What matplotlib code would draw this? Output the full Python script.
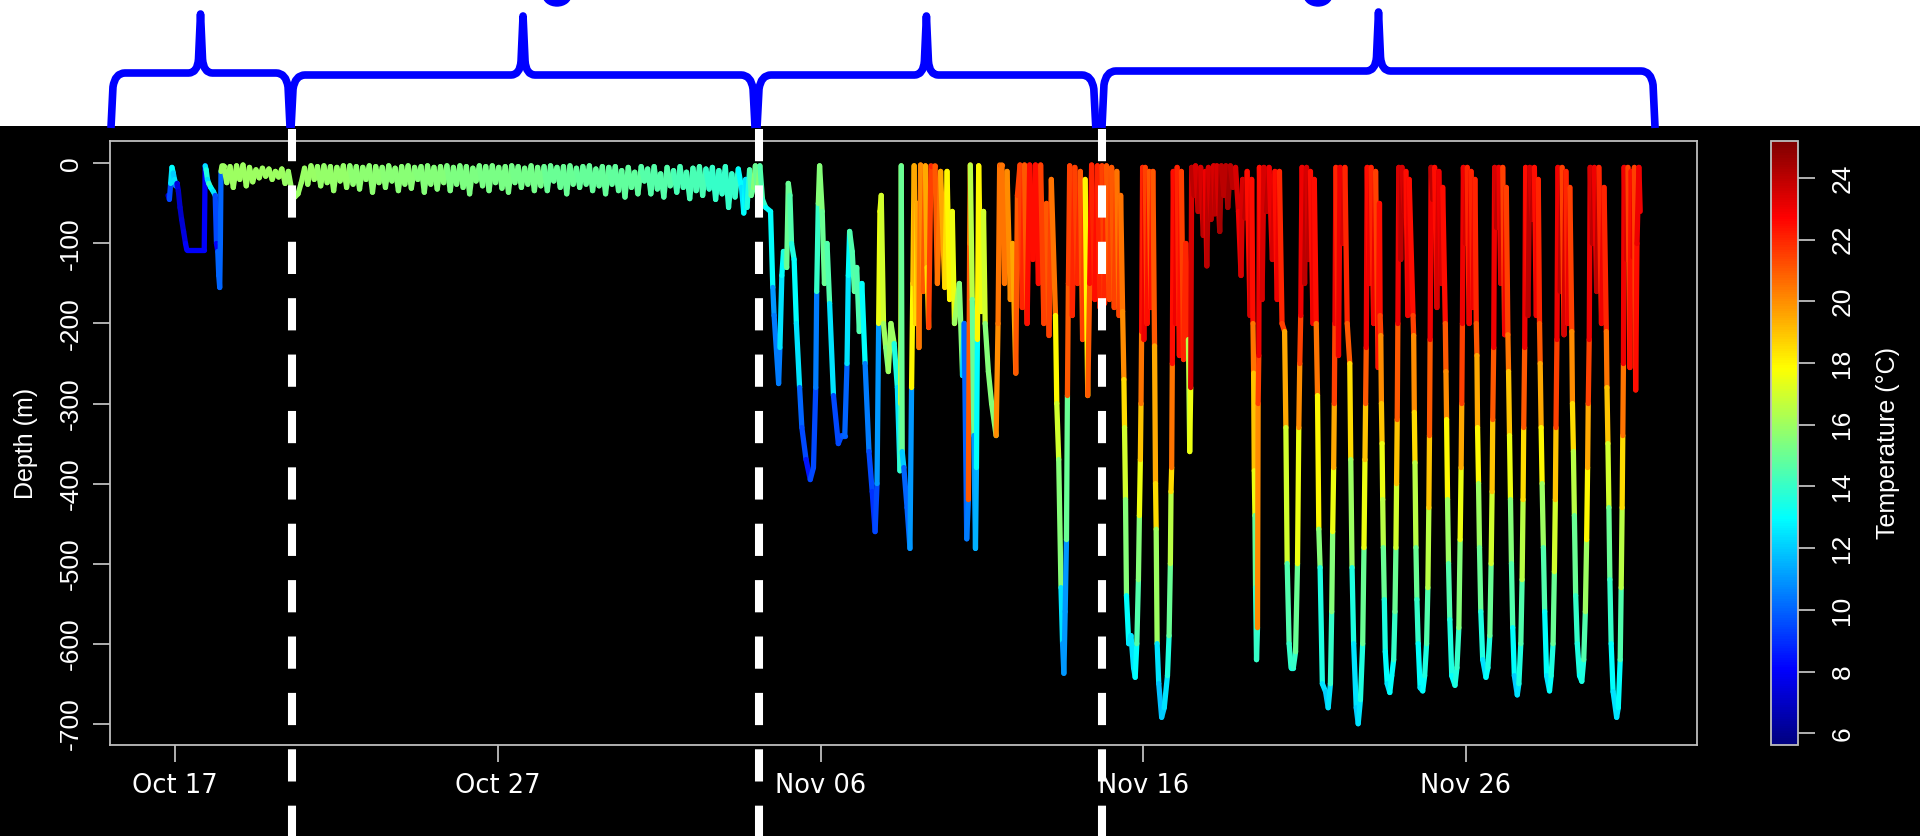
import numpy as np
import matplotlib
matplotlib.use("Agg")
import matplotlib.pyplot as plt
import matplotlib.dates as mdates
from matplotlib.collections import LineCollection
from matplotlib.colors import LinearSegmentedColormap, Normalize
from matplotlib.cm import ScalarMappable
from matplotlib.path import Path
from matplotlib.patches import PathPatch, Ellipse, Rectangle
from datetime import datetime

plt.rcParams["axes.unicode_minus"] = False

# ---- data: (days after 17 Oct, depth m, temperature degC) ----
release_dives = [
    (-0.22, -40, 8.0), (-0.18, -45, 7.5), (-0.14, -25, 9.5), (-0.10, -5, 12.5),
    (-0.06, -12, 13.0), (-0.02, -20, 12.0), (0.02, -28, 12.5), (0.06, -25, 10.0),
    (0.10, -35, 7.5), (0.15, -55, 7.0), (0.20, -70, 7.0), (0.26, -85, 7.3),
    (0.32, -100, 7.5), (0.36, -108, 8.0), (0.90, -108, 8.0), (0.93, -3, 8.0),
    (0.96, -8, 12.5), (1.00, -20, 13.5), (1.04, -25, 12.5), (1.10, -30, 14.0),
    (1.18, -35, 13.0), (1.24, -40, 12.5), (1.28, -100, 9.5), (1.32, -110, 8.0),
    (1.35, -140, 10.0), (1.38, -155, 10.0), (1.40, -100, 10.0), (1.42, -10, 10.0),
    (1.45, -3, 16.0),
]

# shallow phase, ten samples per day from 1.5 to 17.45
surface_depth = [
    -3, -24, -4, -30, -3, -20, -2, -28, -5, -23,
    -8, -18, -6, -16, -7, -20, -10, -17, -7, -25,
    -10, -32, -42, -38, -24, -6, -26, -3, -20, -4,
    -28, -3, -24, -4, -34, -5, -22, -3, -30, -3,
    -26, -4, -32, -5, -20, -3, -36, -4, -24, -5,
    -30, -3, -22, -6, -34, -4, -26, -3, -31, -5,
    -20, -4, -36, -3, -26, -5, -32, -4, -24, -3,
    -34, -5, -26, -3, -30, -4, -38, -6, -22, -3,
    -28, -4, -34, -3, -24, -5, -31, -4, -36, -3,
    -24, -4, -30, -6, -26, -3, -34, -5, -28, -4,
    -34, -3, -22, -5, -30, -4, -38, -3, -26, -6,
    -30, -4, -26, -3, -34, -7, -28, -4, -38, -5,
    -26, -4, -34, -9, -42, -5, -30, -11, -38, -4,
    -22, -7, -38, -4, -32, -13, -42, -5, -28, -9,
    -36, -4, -30, -11, -44, -6, -34, -4, -40, -7,
    -32, -5, -45, -9, -38, -4, -55, -13, -42, -7,
]
surface_temp = [16.0, 16.0, 15.9, 15.8, 15.7, 15.6, 15.5, 15.4,
                15.3, 15.2, 15.0, 14.9, 14.8, 14.6, 14.4, 14.0]

mixed_dives = [
    (17.55, -30, 13.0), (17.62, -62, 12.5), (17.68, -20, 13.0), (17.72, -55, 12.5),
    (17.80, -8, 13.5), (17.85, -40, 14.5), (17.92, -30, 15.0), (17.98, -3, 15.5),
    (18.05, -40, 15.0), (18.12, -3, 15.5), (18.20, -45, 14.5), (18.30, -55, 14.0),
    (18.45, -60, 13.0), (18.52, -155, 13.0), (18.56, -190, 11.0), (18.70, -275, 10.5),
    (18.74, -230, 10.5), (18.80, -140, 12.5), (18.85, -110, 13.0), (18.95, -130, 13.5),
    (19.00, -25, 15.0), (19.05, -40, 15.0), (19.10, -100, 14.5), (19.18, -120, 13.5),
    (19.25, -200, 13.0), (19.35, -280, 12.5), (19.42, -330, 10.0), (19.55, -370, 9.5),
    (19.68, -395, 8.5), (19.78, -380, 9.5), (19.85, -280, 9.5), (19.88, -160, 10.5),
    (19.93, -50, 14.0), (19.97, -3, 15.5), (20.05, -60, 15.5), (20.12, -150, 15.0),
    (20.20, -100, 15.0), (20.28, -175, 14.5), (20.40, -290, 12.5), (20.55, -350, 9.5),
    (20.65, -340, 9.5), (20.75, -340, 9.8), (20.82, -250, 10.0), (20.86, -140, 12.5),
    (20.90, -85, 13.0), (20.98, -110, 14.5), (21.05, -160, 14.5), (21.12, -130, 14.8),
    (21.20, -210, 14.5), (21.28, -150, 14.5), (21.38, -250, 13.0), (21.50, -360, 10.5),
    (21.60, -410, 9.5), (21.69, -460, 9.0), (21.75, -400, 9.5), (21.80, -200, 11.0),
    (21.84, -60, 17.5), (21.88, -40, 17.5), (21.95, -200, 17.0), (22.02, -230, 16.0),
    (22.10, -260, 15.5), (22.18, -200, 16.0), (22.28, -225, 16.0), (22.38, -280, 13.5),
    (22.46, -384, 12.5), (22.48, -300, 14.0), (22.50, -3, 16.5), (22.53, -360, 15.0),
    (22.58, -380, 12.0), (22.68, -430, 10.0), (22.77, -481, 10.0), (22.82, -280, 11.0),
    (22.86, -150, 18.0), (22.90, -3, 19.0), (22.95, -200, 19.5), (23.00, -50, 18.5),
    (23.05, -230, 19.5), (23.10, -2, 20.5), (23.18, -160, 20.0), (23.25, -3, 21.0),
    (23.30, -130, 19.5), (23.35, -205, 18.5), (23.42, -3, 21.5), (23.55, -3, 22.0),
    (23.62, -150, 21.0), (23.72, -10, 20.5), (23.85, -155, 19.5), (23.92, -10, 18.5),
    (24.00, -170, 18.0), (24.08, -60, 18.0), (24.15, -200, 17.5), (24.30, -150, 16.0),
    (24.40, -265, 15.5), (24.45, -200, 12.0), (24.53, -469, 10.0), (24.58, -420, 10.5),
    (24.62, -100, 21.0), (24.64, -2, 20.5), (24.70, -170, 16.5), (24.75, -340, 15.0),
    (24.80, -481, 11.0), (24.83, -380, 11.5), (24.86, -220, 13.0), (24.90, -3, 18.0),
    (24.98, -185, 18.0), (25.05, -60, 17.5), (25.10, -200, 17.0), (25.20, -260, 15.5),
    (25.30, -300, 15.5), (25.44, -340, 15.5), (25.50, -200, 20.0), (25.55, -2, 20.5),
    (25.62, -2, 21.0), (25.70, -150, 20.5), (25.78, -10, 20.5), (25.88, -170, 20.0),
    (25.95, -100, 20.0), (26.05, -262, 19.5), (26.10, -40, 21.0), (26.18, -2, 21.5),
    (26.25, -180, 21.5), (26.32, -2, 22.0), (26.40, -200, 21.0), (26.48, -2, 22.5),
    (26.58, -120, 22.5), (26.66, -2, 22.5), (26.75, -150, 22.5), (26.82, -2, 22.5),
    (26.92, -200, 21.5), (27.00, -50, 21.5), (27.08, -215, 21.0), (27.15, -20, 21.5),
    (27.28, -190, 20.5), (27.32, -300, 18.0), (27.38, -370, 17.0), (27.45, -530, 15.5),
    (27.50, -600, 12.5), (27.54, -637, 11.0), (27.58, -560, 11.0), (27.62, -470, 11.0),
    (27.65, -290, 15.0), (27.68, -150, 21.0), (27.72, -3, 21.5), (27.80, -190, 21.5),
    (27.88, -5, 22.0), (27.96, -150, 21.5), (28.05, -10, 22.0), (28.12, -220, 21.0),
    (28.20, -20, 21.5), (28.28, -290, 18.0), (28.34, -150, 21.0), (28.40, -2, 22.5),
    (28.50, -170, 22.0), (28.58, -3, 22.5),
]

diel_dives = [
    (28.66, -180, 22.0), (28.72, -3, 22.0), (28.80, -175, 21.5), (28.86, -3, 22.0),
    (28.95, -170, 21.0), (29.02, -5, 21.5), (29.10, -180, 21.0), (29.18, -10, 21.5),
    (29.25, -190, 20.5), (29.30, -40, 21.5), (29.36, -185, 20.5),
    (29.40, -270, 20.0), (29.42, -330, 18.5), (29.45, -420, 17.0), (29.48, -540, 15.5),
    (29.55, -600, 13.0), (29.62, -590, 12.5), (29.70, -630, 12.5), (29.75, -642, 12.5),
    (29.80, -600, 13.0), (29.85, -520, 14.5), (29.88, -440, 15.5), (29.91, -370, 17.5),
    (29.93, -300, 19.0), (29.95, -210, 20.5), (29.98, -5, 22.5),
    (30.02, -220, 22.0), (30.06, -5, 23.0), (30.12, -200, 21.5), (30.18, -10, 22.5),
    (30.24, -180, 21.0), (30.30, -10, 22.5),
    (30.35, -228, 21.0), (30.38, -400, 19.5), (30.40, -457, 18.5), (30.43, -600, 16.0),
    (30.48, -650, 12.5), (30.57, -692, 11.8), (30.65, -680, 12.0), (30.75, -640, 12.5),
    (30.80, -590, 13.5), (30.84, -500, 15.0), (30.86, -410, 16.5), (30.88, -380, 18.5),
    (30.90, -250, 20.5), (30.93, -10, 22.5),
    (31.00, -200, 22.5), (31.05, -5, 23.0), (31.12, -240, 22.0), (31.18, -10, 22.5),
    (31.25, -245, 21.5), (31.32, -100, 22.0), (31.40, -220, 22.0), (31.44, -360, 16.5),
    (31.47, -280, 17.5), (31.50, -5, 23.5),
    (31.58, -40, 24.0), (31.62, -3, 24.0), (31.70, -60, 23.5), (31.78, -5, 24.0),
    (31.86, -90, 23.5), (31.92, -10, 24.0), (31.97, -128, 23.0), (32.02, -5, 24.0),
    (32.10, -70, 23.5), (32.18, -3, 24.0), (32.22, -63, 23.5), (32.28, -3, 24.0),
    (32.37, -85, 23.5), (32.42, -3, 24.5), (32.50, -40, 24.0), (32.56, -3, 24.0),
    (32.62, -55, 24.0), (32.70, -3, 24.5), (32.78, -30, 24.0), (32.86, -5, 24.0),
    (32.95, -60, 23.5), (33.03, -140, 23.0), (33.08, -20, 23.5), (33.15, -68, 23.5),
    (33.22, -10, 24.0), (33.31, -190, 22.5), (33.36, -20, 23.5),
    (33.40, -200, 22.5), (33.42, -262, 20.5), (33.44, -384, 19.0), (33.46, -440, 17.5),
    (33.48, -530, 15.0), (33.51, -620, 14.0), (33.54, -580, 14.0), (33.56, -300, 20.0),
    (33.58, -240, 21.5), (33.60, -5, 23.0),
    (33.68, -170, 22.5), (33.74, -5, 23.5), (33.82, -60, 23.5), (33.90, -5, 24.0),
    (34.00, -120, 23.0), (34.08, -10, 23.5), (34.15, -170, 22.5), (34.22, -10, 23.0),
    (34.30, -200, 22.0),
    (34.38, -210, 21.5), (34.42, -330, 19.5), (34.46, -500, 17.0), (34.52, -600, 14.5),
    (34.58, -630, 14.0), (34.65, -630, 13.5), (34.72, -610, 14.0), (34.78, -500, 15.0),
    (34.82, -330, 17.5), (34.85, -250, 20.0), (34.88, -190, 21.5), (34.92, -5, 23.0),
    (35.00, -150, 23.0), (35.06, -5, 24.0), (35.12, -120, 23.5), (35.18, -10, 24.0),
    (35.26, -200, 22.5), (35.30, -20, 23.0),
    (35.36, -200, 22.5), (35.40, -290, 20.5), (35.44, -457, 18.0), (35.48, -505, 15.5),
    (35.55, -650, 13.5), (35.65, -660, 12.5), (35.73, -680, 12.0), (35.80, -650, 12.5),
    (35.84, -560, 14.0), (35.87, -460, 15.5), (35.90, -380, 17.5), (35.92, -300, 19.5),
    (35.94, -200, 21.5), (35.97, -5, 23.0),
    (36.05, -240, 22.0), (36.10, -5, 23.0), (36.18, -100, 23.0), (36.25, -5, 23.5),
    (36.32, -200, 22.0),
    (36.40, -250, 21.0), (36.43, -370, 18.5), (36.47, -505, 16.0), (36.52, -600, 13.5),
    (36.60, -680, 12.5), (36.66, -700, 12.0), (36.73, -670, 12.5), (36.80, -600, 13.5),
    (36.84, -480, 15.0), (36.87, -370, 17.5), (36.89, -300, 19.0), (36.91, -230, 21.0),
    (36.94, -5, 23.0),
    (37.00, -150, 22.5), (37.06, -5, 23.0), (37.14, -200, 22.0), (37.20, -10, 23.0),
    (37.28, -255, 21.5), (37.32, -50, 22.5),
    (37.34, -190, 22.5), (37.36, -215, 21.5), (37.38, -300, 20.0), (37.40, -350, 19.0),
    (37.42, -420, 17.5), (37.44, -480, 16.5), (37.47, -545, 15.0), (37.50, -610, 13.5),
    (37.56, -650, 13.0), (37.64, -661, 12.5), (37.70, -640, 13.0), (37.76, -620, 13.0),
    (37.80, -560, 14.0), (37.83, -480, 15.0), (37.85, -400, 17.0), (37.87, -320, 19.0),
    (37.89, -200, 21.0), (37.92, -5, 23.0),
    (37.98, -120, 23.5), (38.02, -5, 24.0), (38.08, -60, 23.5), (38.14, -10, 24.0),
    (38.20, -190, 22.5), (38.24, -20, 23.0),
    (38.36, -190, 22.5), (38.38, -215, 21.5), (38.40, -311, 20.0), (38.42, -374, 18.5),
    (38.45, -480, 16.5), (38.48, -545, 15.0), (38.52, -600, 14.0), (38.58, -655, 13.0),
    (38.66, -659, 12.5), (38.72, -640, 13.0), (38.78, -600, 13.5), (38.82, -530, 14.5),
    (38.85, -430, 16.5), (38.87, -340, 19.0), (38.89, -220, 21.0), (38.92, -5, 23.0),
    (38.98, -45, 24.0), (39.03, -5, 24.0), (39.10, -180, 22.5), (39.16, -10, 23.5),
    (39.24, -150, 23.0), (39.28, -30, 23.5),
    (39.36, -200, 22.5), (39.38, -260, 21.0), (39.40, -320, 20.0), (39.43, -420, 18.0),
    (39.46, -500, 16.0), (39.50, -570, 14.5), (39.56, -640, 13.5), (39.66, -652, 13.0),
    (39.72, -630, 13.5), (39.78, -580, 14.0), (39.82, -470, 15.5), (39.85, -380, 17.5),
    (39.87, -300, 19.5), (39.89, -200, 21.5), (39.92, -5, 23.0),
    (39.98, -100, 23.0), (40.04, -5, 23.5), (40.10, -200, 22.0), (40.16, -10, 23.0),
    (40.22, -180, 22.0), (40.28, -20, 23.0),
    (40.32, -200, 22.0), (40.34, -240, 21.0), (40.36, -330, 19.5), (40.39, -400, 18.0),
    (40.42, -480, 16.0), (40.46, -560, 15.0), (40.52, -620, 13.5), (40.62, -642, 12.5),
    (40.68, -630, 13.0), (40.74, -590, 13.5), (40.78, -500, 15.0), (40.81, -410, 17.0),
    (40.83, -320, 19.0), (40.86, -230, 21.0), (40.89, -5, 23.0),
    (40.95, -80, 23.5), (41.02, -5, 24.0), (41.08, -150, 23.0), (41.14, -5, 23.5),
    (41.20, -214, 21.5), (41.25, -30, 23.0),
    (41.30, -214, 21.5), (41.32, -260, 20.5), (41.35, -340, 19.0), (41.38, -420, 17.5),
    (41.41, -500, 15.5), (41.45, -580, 14.5), (41.50, -640, 13.0), (41.59, -664, 12.0),
    (41.64, -650, 12.5), (41.70, -600, 13.5), (41.74, -520, 14.5), (41.77, -420, 16.5),
    (41.79, -330, 18.5), (41.82, -230, 21.0), (41.85, -5, 23.0),
    (41.92, -190, 22.5), (41.98, -5, 24.0), (42.05, -70, 23.5), (42.12, -5, 24.0),
    (42.18, -190, 22.5), (42.24, -20, 23.0),
    (42.28, -200, 22.0), (42.30, -250, 21.0), (42.33, -330, 19.5), (42.36, -400, 18.0),
    (42.40, -480, 16.0), (42.44, -560, 14.5), (42.50, -640, 13.0), (42.59, -659, 12.5),
    (42.64, -640, 13.0), (42.70, -600, 13.5), (42.74, -510, 15.0), (42.77, -420, 17.0),
    (42.79, -330, 19.0), (42.82, -220, 21.5), (42.85, -5, 23.0),
    (42.92, -160, 23.0), (42.98, -5, 24.0), (43.04, -214, 21.5), (43.10, -10, 23.5),
    (43.16, -200, 22.0), (43.22, -30, 23.0),
    (43.28, -210, 21.5), (43.30, -300, 20.0), (43.33, -360, 18.5), (43.36, -440, 16.5),
    (43.40, -540, 15.0), (43.45, -600, 14.0), (43.52, -640, 13.5), (43.59, -647, 13.0),
    (43.65, -620, 13.5), (43.70, -560, 14.5), (43.74, -470, 16.0), (43.77, -380, 18.0),
    (43.79, -300, 19.5), (43.82, -220, 21.5), (43.85, -5, 23.0),
    (43.92, -100, 23.5), (43.98, -5, 24.0), (44.05, -160, 23.0), (44.12, -5, 24.0),
    (44.20, -200, 22.0), (44.28, -30, 23.0),
    (44.35, -210, 22.0), (44.37, -280, 20.5), (44.40, -350, 19.0), (44.43, -430, 17.0),
    (44.46, -520, 15.0), (44.50, -600, 14.0), (44.56, -660, 13.0), (44.67, -692, 12.5),
    (44.72, -680, 12.5), (44.78, -620, 13.0), (44.81, -530, 14.5), (44.84, -430, 16.5),
    (44.86, -340, 18.5), (44.88, -250, 20.5), (44.90, -5, 23.0),
    (44.98, -120, 23.0), (45.02, -5, 23.5), (45.08, -255, 21.5), (45.12, -10, 22.5),
    (45.18, -117, 22.5), (45.22, -5, 23.0), (45.26, -283, 21.5), (45.30, -100, 22.5),
    (45.36, -5, 23.0), (45.40, -60, 23.0),
]

tick_dates = ["2016-10-17", "2016-10-27", "2016-11-06", "2016-11-16", "2016-11-26"]
depth_ticks = [0, -100, -200, -300, -400, -500, -600, -700]
temp_ticks = [6, 8, 10, 12, 14, 16, 18, 20, 22, 24]
phase_breaks = [3.62, 18.09, 28.72]          # days after 17 Oct
brace_start = [-1.99, 3.59, 18.03, 28.72]
brace_end = [3.56, 17.97, 28.53, 45.86]
brace_bar = [73, 75, 75, 71]                  # px from top of image
brace_tip = [14, 16, 16, 12]

# ---- figure ----
fig = plt.figure(figsize=(19.2, 8.36), dpi=100, facecolor="white")
fig.add_artist(Rectangle((0, 0), 1, 710 / 836, transform=fig.transFigure,
                         facecolor="black", edgecolor="none", zorder=-1))

jet = LinearSegmentedColormap.from_list(
    "jetR", ["#00007F", "blue", "#007FFF", "cyan", "#7FFF7F",
             "yellow", "#FF7F00", "red", "#7F0000"])
norm = Normalize(vmin=5.62, vmax=25.2)

d0 = mdates.date2num(datetime(2016, 10, 17))
a = np.array(release_dives)
c = np.array(mixed_dives)
e = np.array(diel_dives)
surf_days = np.linspace(1.5, 17.45, len(surface_depth))
surf_T = np.repeat(surface_temp, 10)

t = np.concatenate([a[:, 0], surf_days, c[:, 0], e[:, 0]]) + d0
z = np.concatenate([a[:, 1], surface_depth, c[:, 1], e[:, 1]])
T = np.concatenate([a[:, 2], surf_T, c[:, 2], e[:, 2]])

ax = fig.add_axes([110 / 1920, 91 / 836, 1587 / 1920, 604 / 836])
ax.set_facecolor("black")
pts = np.column_stack([t, z]).reshape(-1, 1, 2)
segs = np.concatenate([pts[:-1], pts[1:]], axis=1)
lc = LineCollection(segs, cmap=jet, norm=norm, linewidths=3.8, capstyle="round")
lc.set_array(T[1:])
ax.add_collection(lc)

ax.set_xlim(d0 - 2.02, d0 + 47.16)
ax.set_ylim(-726.6, 28.0)
ax.set_xticks([mdates.date2num(datetime.strptime(s, "%Y-%m-%d")) for s in tick_dates])
ax.xaxis.set_major_formatter(mdates.DateFormatter("%b %d"))
ax.set_yticks(depth_ticks)
for sp in ax.spines.values():
    sp.set_color("#BEBEBE")
    sp.set_linewidth(1.3)
ax.tick_params(colors="#BEBEBE", labelcolor="white", length=12, width=1.3)
ax.tick_params(axis="x", pad=8.5)
ax.tick_params(axis="y", pad=16)
for lb in ax.get_xticklabels():
    lb.set_fontsize(18.5)
    lb.set_family("DejaVu Sans")
for lb in ax.get_yticklabels():
    lb.set_fontsize(19)
    lb.set_family("Liberation Sans")
    lb.set_rotation(90)
    lb.set_ha("center")
    lb.set_va("center")
ax.set_ylabel("Depth (m)", color="white", fontsize=18, family="Liberation Sans", va="center")
ax.yaxis.set_label_coords(-0.0532, 0.5)

# colour bar
cax = fig.add_axes([1771 / 1920, 91 / 836, 27 / 1920, 604 / 836])
cb = fig.colorbar(ScalarMappable(norm=norm, cmap=jet), cax=cax, ticks=temp_ticks)
cb.outline.set_edgecolor("#BEBEBE")
cb.outline.set_linewidth(1.3)
cax.tick_params(colors="#BEBEBE", labelcolor="white", length=12, width=1.3, pad=20)
for lb in cax.get_yticklabels():
    lb.set_fontsize(19)
    lb.set_family("Liberation Sans")
    lb.set_rotation(90)
    lb.set_ha("center")
    lb.set_va("center")
cax.set_ylabel("Temperature (°C)", color="white", fontsize=18,
               family="Liberation Sans", va="center", rotation=90)
cax.yaxis.set_label_coords(4.32, 0.5)

# overlay in image pixels: phase separators and braces
ov = fig.add_axes([0, 0, 1, 1], zorder=5)
ov.set_xlim(0, 1920)
ov.set_ylim(836, 0)
ov.axis("off")


def px(day):
    return ax.transData.transform((d0 + day, 0))[0]


for b in phase_breaks:
    x = px(b)
    ov.plot([x, x], [129, 836], color="white", lw=5.8, dashes=(4, 3),
            solid_capstyle="butt", dash_capstyle="butt")


def brace(x0, x1, ybar, ytip, ybot=128):
    xp = (x0 + x1) / 2
    v = [(x0, ybot), (x0 + 2, ybar + 14), (x0 + 4, ybar), (x0 + 14, ybar),
         (xp - 12, ybar), (xp - 3, ybar), (xp - 2, ybar - 14), (xp, ytip),
         (xp + 2, ybar - 14), (xp + 3, ybar), (xp + 12, ybar),
         (x1 - 14, ybar), (x1 - 4, ybar), (x1 - 2, ybar + 14), (x1, ybot)]
    cd = [Path.MOVETO, Path.LINETO, Path.CURVE3, Path.CURVE3,
          Path.LINETO, Path.CURVE3, Path.CURVE3, Path.LINETO,
          Path.LINETO, Path.CURVE3, Path.CURVE3,
          Path.LINETO, Path.CURVE3, Path.CURVE3, Path.LINETO]
    return PathPatch(Path(v, cd), facecolor="none", edgecolor="blue", lw=5.5,
                     capstyle="butt", joinstyle="round")


for s, f, yb, yt in zip(brace_start, brace_end, brace_bar, brace_tip):
    ov.add_patch(brace(px(s), px(f), yb, yt))

# bits of the clipped heading above
for xc in (557, 1318):
    ov.add_patch(Ellipse((xc, -5), 28, 22, color="blue"))

fig.savefig("out.png", dpi=100)
